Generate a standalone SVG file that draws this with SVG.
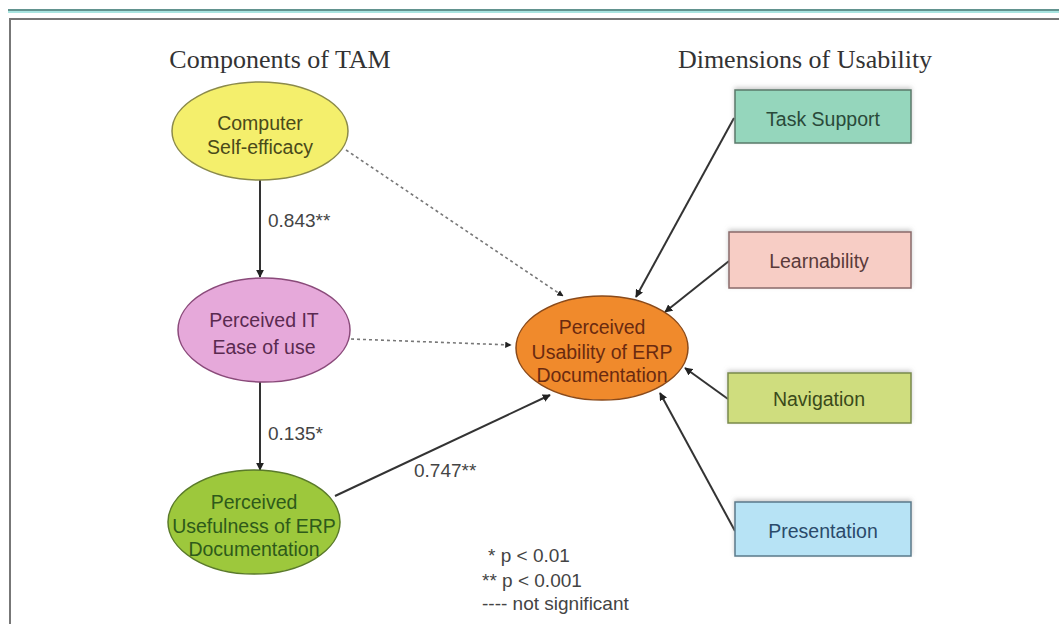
<svg xmlns="http://www.w3.org/2000/svg" width="1059" height="624" viewBox="0 0 1059 624">
  <style>
    .title { font-family: "Liberation Serif", serif; font-size: 26px; fill: #333; text-anchor: middle; }
    .lbl { font-family: "Liberation Sans", Arial, sans-serif; font-size: 19.5px; text-anchor: middle; }
    .coef { font-family: "Liberation Sans", Arial, sans-serif; font-size: 19px; fill: #444; }
    .legend { font-family: "Liberation Sans", Arial, sans-serif; font-size: 19px; fill: #444; }
    .solid { stroke: #333; stroke-width: 2; fill: none; }
    .dash { stroke: #777; stroke-width: 1.6; stroke-dasharray: 3 3; fill: none; }
    .box { stroke-width: 1.5; }
  </style>
  <defs>
    <marker id="arrow" viewBox="0 0 10 10" refX="9" refY="5" markerWidth="4" markerHeight="4" orient="auto">
      <path d="M0,0 L10,5 L0,10 z" fill="#222"/>
    </marker>
    <filter id="shadow" x="-10%" y="-20%" width="120%" height="140%">
      <feDropShadow dx="0" dy="-2" stdDeviation="2" flood-color="#999" flood-opacity="0.5"/>
    </filter>
  </defs>

  <!-- page frame -->
  <rect x="0" y="0" width="1059" height="624" fill="#fff"/>
  <line x1="8" y1="10" x2="1059" y2="10" stroke="#2e6f6a" stroke-width="1.5"/>
  <line x1="8" y1="12" x2="1059" y2="12" stroke="#a8e4e0" stroke-width="2"/>
  <line x1="9" y1="19" x2="1059" y2="19" stroke="#777" stroke-width="2"/>
  <line x1="10" y1="19" x2="10" y2="624" stroke="#777" stroke-width="2"/>

  <!-- headings -->
  <text class="title" x="280" y="68">Components of TAM</text>
  <text class="title" x="805" y="68">Dimensions of Usability</text>

  <!-- connectors -->
  <g id="connectors">
    <line class="solid" x1="260" y1="180" x2="260" y2="277" marker-end="url(#arrow)"/>
    <line class="solid" x1="260" y1="382" x2="260" y2="470" marker-end="url(#arrow)"/>
    <line class="solid" x1="335" y1="496" x2="550" y2="395" marker-end="url(#arrow)"/>
    <line class="dash" x1="346" y1="150" x2="563" y2="296" marker-end="url(#arrow)"/>
    <line class="dash" x1="351" y1="339" x2="511" y2="345" marker-end="url(#arrow)"/>
    <line class="solid" x1="734" y1="118" x2="636" y2="297" marker-end="url(#arrow)"/>
    <line class="solid" x1="729" y1="261" x2="665" y2="312" marker-end="url(#arrow)"/>
    <line class="solid" x1="728" y1="399" x2="685" y2="368" marker-end="url(#arrow)"/>
    <line class="solid" x1="735" y1="531" x2="660" y2="393" marker-end="url(#arrow)"/>
    <text class="coef" x="268" y="227">0.843**</text>
    <text class="coef" x="268" y="440">0.135*</text>
    <text class="coef" x="414" y="477">0.747**</text>
  </g>

  <!-- TAM components -->
  <g id="self-efficacy">
    <ellipse cx="260" cy="131" rx="88" ry="49" fill="#f4ef6c" stroke="#8b8a4a" stroke-width="1.5"/>
    <text class="lbl" x="260" y="130" fill="#4a4a1a">Computer</text>
    <text class="lbl" x="260" y="154" fill="#4a4a1a">Self-efficacy</text>
  </g>
  <g id="ease-of-use">
    <ellipse cx="264" cy="330" rx="86" ry="52" fill="#e6a9da" stroke="#8a4a7a" stroke-width="1.5"/>
    <text class="lbl" x="264" y="327" fill="#5a2a50">Perceived IT</text>
    <text class="lbl" x="264" y="354" fill="#5a2a50">Ease of use</text>
  </g>
  <g id="usefulness">
    <ellipse cx="254" cy="522" rx="86" ry="52" fill="#9dc83c" stroke="#5a7a2a" stroke-width="1.5"/>
    <text class="lbl" x="254" y="509" fill="#2e5a1a">Perceived</text>
    <text class="lbl" x="254" y="533" fill="#2e5a1a">Usefulness of ERP</text>
    <text class="lbl" x="254" y="556" fill="#2e5a1a">Documentation</text>
  </g>

  <!-- central construct -->
  <g id="usability">
    <ellipse cx="602" cy="348" rx="86" ry="52" fill="#f08a2c" stroke="#8a4a1a" stroke-width="1.5"/>
    <text class="lbl" x="602" y="334" fill="#6a2a10">Perceived</text>
    <text class="lbl" x="602" y="359" fill="#6a2a10">Usability of ERP</text>
    <text class="lbl" x="602" y="382" fill="#6a2a10">Documentation</text>
  </g>

  <!-- usability dimensions -->
  <g id="task-support">
    <rect class="box" x="735" y="90" width="176" height="53" fill="#95d6bc" stroke="#5a7a6a" filter="url(#shadow)"/>
    <text class="lbl" x="823" y="126" fill="#2a4a3a">Task Support</text>
  </g>
  <g id="learnability">
    <rect class="box" x="729" y="232" width="182" height="56" fill="#f7cdc5" stroke="#8a6a6a" filter="url(#shadow)"/>
    <text class="lbl" x="819" y="268" fill="#5a3a3a">Learnability</text>
  </g>
  <g id="navigation">
    <rect class="box" x="728" y="373" width="183" height="50" fill="#cfdd7e" stroke="#7a8a4a" filter="url(#shadow)"/>
    <text class="lbl" x="819" y="406" fill="#3a4a1a">Navigation</text>
  </g>
  <g id="presentation">
    <rect class="box" x="735" y="502" width="176" height="54" fill="#b7e3f5" stroke="#5a7a8a" filter="url(#shadow)"/>
    <text class="lbl" x="823" y="538" fill="#2a4a6a">Presentation</text>
  </g>

  <!-- significance legend -->
  <g id="legend">
    <text class="legend" x="488" y="562">* p &lt; 0.01</text>
    <text class="legend" x="482" y="587">** p &lt; 0.001</text>
    <text class="legend" x="482" y="610">---- not significant</text>
  </g>
</svg>
